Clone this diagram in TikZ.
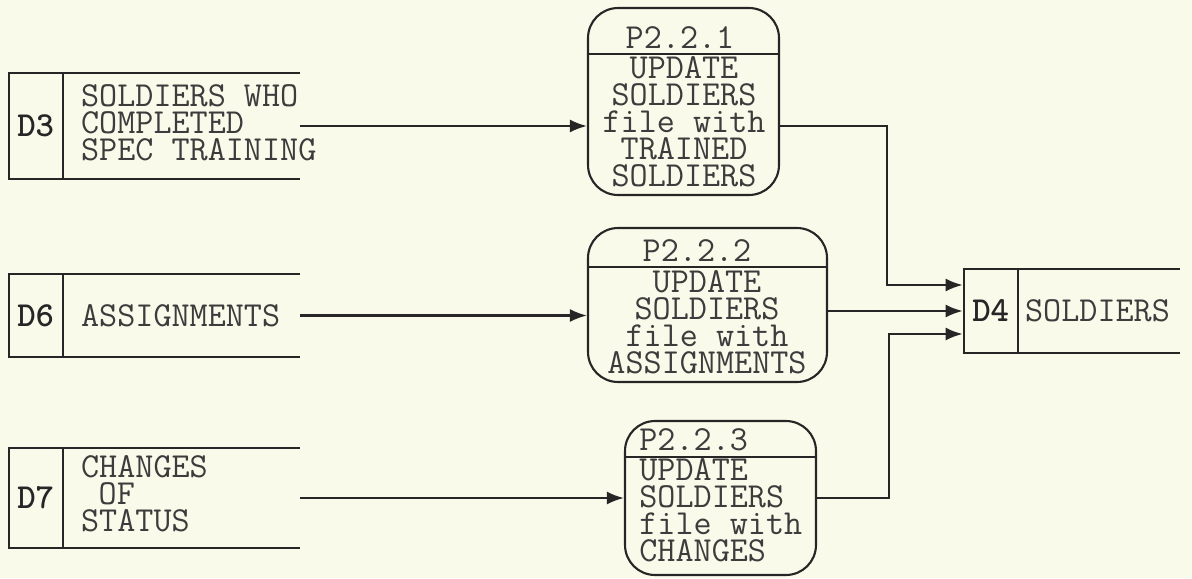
\documentclass[tikz,border=0pt]{standalone}
\usepackage{fontspec}
\usetikzlibrary{arrows.meta,positioning}
\definecolor{Paper}{HTML}{FAFAEB}
\definecolor{Ink}{HTML}{262626}
\tikzset{
  arr/.style={-{Latex[length=3.4mm,width=2.6mm]},line width=1.3pt,draw=Ink},
  edge/.style={line width=1.2pt,draw=Ink},
  storearea/.style={inner sep=0pt},
  storeid/.style={draw=Ink,line width=1.2pt,minimum width=1.08cm,inner sep=0pt,text=Ink,font=\ttfamily\bfseries\fontsize{20}{15.4}\selectfont},
  storetext/.style={inner sep=0pt,align=left,text=Ink!90,font=\ttfamily\fontsize{20}{15.4}\selectfont},
  procbox/.style={draw=Ink,line width=1.2pt,rounded corners=0.6cm,inner sep=0pt},
  proctext/.style={inner sep=0pt,align=center,text=Ink!90,font=\ttfamily\fontsize{20}{15.4}\selectfont}
}
\begin{document}
\begin{tikzpicture}[x=0.02cm,y=-0.02cm]
  \fill[Paper] (0,0) rectangle (1192,578);
  \useasboundingbox (0,0) rectangle (1192,578);
  % data stores
  \node[storearea,minimum width=5.84cm,minimum height=2.12cm] (d3) at (154,126) {};
  \node[storeid,minimum height=2.12cm,anchor=west] (d3id) at (d3.west) {D3};
  \node[storetext,right=0.34cm of d3id,yshift=0.06cm] (d3txt) {SOLDIERS WHO\\COMPLETED\\SPEC TRAINING};
  \draw[edge] (d3.north west) -- (d3.north east) (d3.south west) -- (d3.south east);
  \node[storearea,minimum width=5.84cm,minimum height=1.66cm] (d6) at (154,315.5) {};
  \node[storeid,minimum height=1.66cm,anchor=west] (d6id) at (d6.west) {D6};
  \node[storetext,right=0.34cm of d6id] (d6txt) {ASSIGNMENTS};
  \draw[edge] (d6.north west) -- (d6.north east) (d6.south west) -- (d6.south east);
  \node[storearea,minimum width=5.84cm,minimum height=2cm] (d7) at (154,498) {};
  \node[storeid,minimum height=2cm,anchor=west] (d7id) at (d7.west) {D7};
  \node[storetext,right=0.34cm of d7id,yshift=0.08cm] (d7txt) {CHANGES\\\hspace*{0.5em}OF\\STATUS};
  \draw[edge] (d7.north west) -- (d7.north east) (d7.south west) -- (d7.south east);
  \node[storearea,minimum width=4.34cm,minimum height=1.68cm] (d4) at (1071.5,311) {};
  \node[storeid,minimum height=1.68cm,anchor=west] (d4id) at (d4.west) {D4};
  \node[storetext,right=0.12cm of d4id] (d4txt) {SOLDIERS};
  \draw[edge] (d4.north west) -- (d4.north east) (d4.south west) -- (d4.south east);
  % processes
  \node[procbox,minimum width=3.82cm,minimum height=3.74cm] (p1) at (683.5,101.5) {};
  \node[proctext] (p1id) at (680,38) {P2.2.1};
  \node[proctext] (p1txt) at (684,122) {UPDATE\\SOLDIERS\\file with\\TRAINED\\SOLDIERS};
  \draw[edge] (p1.west |- 0,54) -- (p1.east |- 0,54);
  \node[procbox,minimum width=4.78cm,minimum height=3.08cm] (p2) at (707.5,305) {};
  \node[proctext] (p2id) at (697,251) {P2.2.2};
  \node[proctext] (p2txt) at (707,322) {UPDATE\\SOLDIERS\\file with\\ASSIGNMENTS};
  \draw[edge] (p2.west |- 0,267) -- (p2.east |- 0,267);
  \node[procbox,minimum width=3.82cm,minimum height=3.08cm] (p3) at (720.5,498) {};
  \node[proctext,anchor=west] (p3id) at (639,440) {P2.2.3};
  \node[proctext,align=left,anchor=west] (p3txt) at (639,510) {UPDATE\\SOLDIERS\\file with\\CHANGES};
  \draw[edge] (p3.west |- 0,457) -- (p3.east |- 0,457);
  % flows
  \draw[arr] (d3.east) -- (p1.west |- d3.east);
  \draw[arr] (d6.east) -- (p2.west |- d6.east);
  \draw[arr] (d7.east) -- (p3.west |- d7.east);
  \coordinate (j1) at (887,285);
  \coordinate (j3) at (889,334);
  \draw[arr] (p1.east |- d3.east) -| (j1) -- (d4.west |- j1);
  \draw[arr] (p2.east |- d4.west) -- (d4.west);
  \draw[arr] (p3.east) -| (j3) -- (d4.west |- j3);
\end{tikzpicture}
\end{document}
